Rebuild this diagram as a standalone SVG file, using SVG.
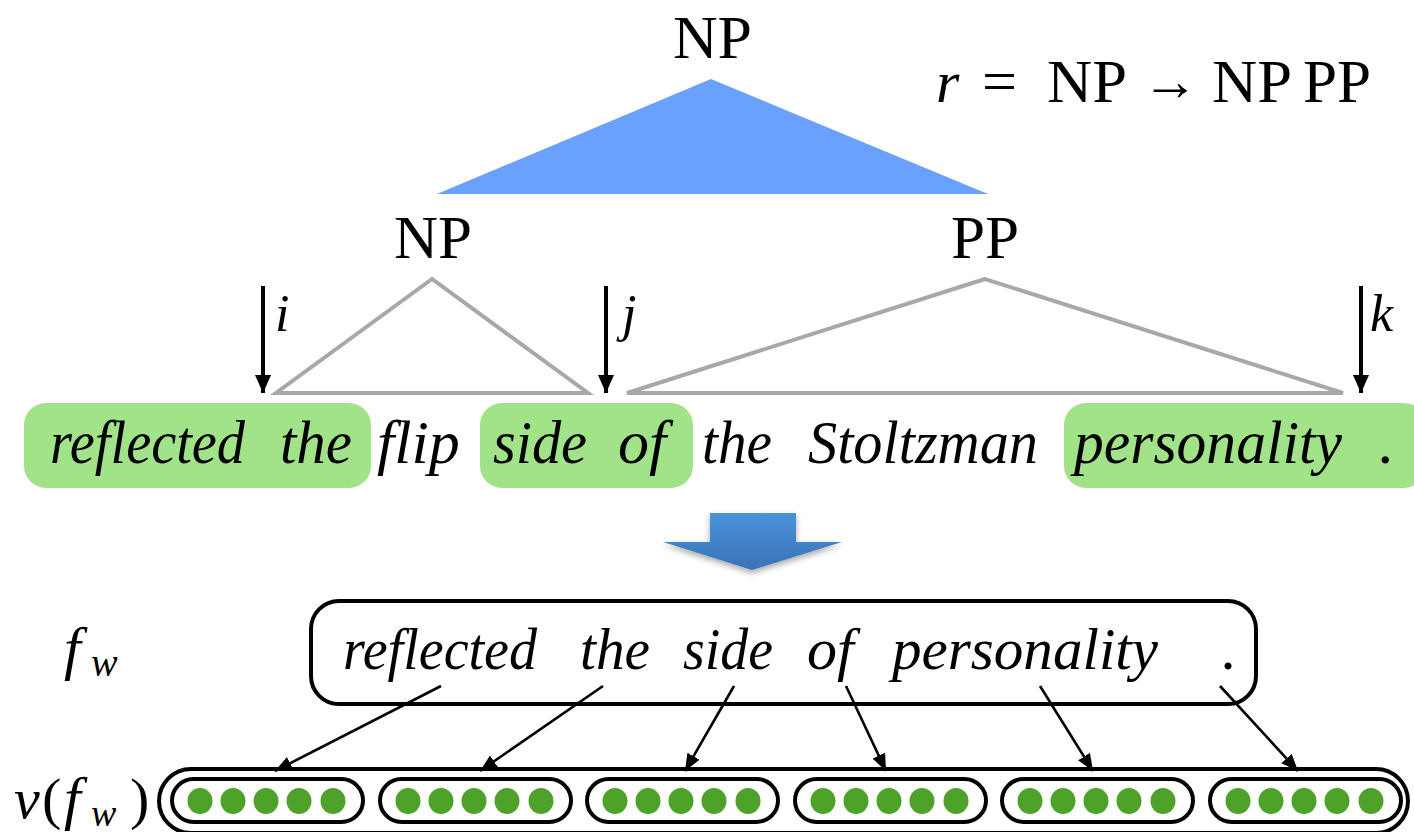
<svg xmlns="http://www.w3.org/2000/svg" width="1414" height="832" viewBox="0 0 1414 832">
  <style>
    .lbl { font-family: 'Liberation Serif', 'DejaVu Serif', 'Noto Serif', serif; fill: #000; }
    .cat { font-size: 62px; }
    .word { font-family: 'Liberation Serif', 'DejaVu Serif', 'Noto Serif', serif; font-style: italic; font-size: 62px; fill: #000; }
    .word2 { font-family: 'Liberation Serif', 'DejaVu Serif', 'Noto Serif', serif; font-style: italic; font-size: 60px; fill: #000; }
    .math { font-family: 'Liberation Serif', 'DejaVu Serif', 'Noto Serif', serif; font-style: italic; fill: #000; }
    .span { fill: none; stroke: #a8a8a8; stroke-width: 4; stroke-linejoin: miter; }
    .hl { fill: #a2e38a; }
    .idx { stroke: #000; stroke-width: 4; }
    .conn { stroke: #000; stroke-width: 2.6; fill: none; }
    .pill { fill: #fff; stroke: #000; stroke-width: 4; }
    .dot { fill: #4ea22a; }
  </style>
  <defs>
    <marker id="headBig" markerUnits="userSpaceOnUse" markerWidth="20" markerHeight="20" viewBox="0 0 20 20" refX="18" refY="10" orient="auto">
      <path d="M0,2 L18,10 L0,18 Z" fill="#000"/>
    </marker>
    <marker id="headSmall" markerUnits="userSpaceOnUse" markerWidth="18" markerHeight="18" viewBox="0 0 18 18" refX="17" refY="9" orient="auto">
      <path d="M0,2 L17,9 L0,16 Z" fill="#000"/>
    </marker>
    <linearGradient id="blueArrow" x1="0" y1="0" x2="0" y2="1">
      <stop offset="0" stop-color="#4b93dc"/>
      <stop offset="1" stop-color="#3a72b4"/>
    </linearGradient>
    <filter id="softShadow" x="-20%" y="-20%" width="140%" height="160%">
      <feGaussianBlur in="SourceAlpha" stdDeviation="3"/>
      <feOffset dy="3" result="b"/>
      <feComponentTransfer><feFuncA type="linear" slope="0.35"/></feComponentTransfer>
      <feMerge><feMergeNode/><feMergeNode in="SourceGraphic"/></feMerge>
    </filter>
  </defs>

  <!-- rule label -->
  <g id="rule">
    <text class="math" x="936" y="102" font-size="60">r</text>
    <text class="lbl" x="982" y="102" font-size="62">=</text>
    <text class="lbl cat" x="1047" y="102" textLength="80" lengthAdjust="spacingAndGlyphs">NP</text>
    <text class="lbl" x="1142" y="100" font-size="56">→</text>
    <text class="lbl cat" x="1212" y="102" textLength="80" lengthAdjust="spacingAndGlyphs">NP</text>
    <text class="lbl cat" x="1303" y="102" textLength="68" lengthAdjust="spacingAndGlyphs">PP</text>
  </g>

  <!-- parent node and its production -->
  <g id="np-root">
    <text class="lbl cat" x="673" y="58" textLength="79" lengthAdjust="spacingAndGlyphs">NP</text>
    <polygon points="711,79 437,194 988,194" fill="#6aa0fe"/>
  </g>

  <g id="np-child">
    <text class="lbl cat" x="394" y="258" textLength="78" lengthAdjust="spacingAndGlyphs">NP</text>
    <polygon class="span" points="432,279 276,393 588,393"/>
  </g>

  <g id="pp-child">
    <text class="lbl cat" x="951" y="258" textLength="68" lengthAdjust="spacingAndGlyphs">PP</text>
    <polygon class="span" points="985,279 627,393 1343,393"/>
  </g>

  <!-- split-point markers -->
  <g id="split-markers">
    <line class="idx" x1="263" y1="286" x2="263" y2="393" marker-end="url(#headBig)"/>
    <text class="math" x="275" y="331" font-size="52">i</text>
    <line class="idx" x1="606" y1="286" x2="606" y2="393" marker-end="url(#headBig)"/>
    <text class="math" x="622" y="331" font-size="52">j</text>
    <line class="idx" x1="1361" y1="286" x2="1361" y2="393" marker-end="url(#headBig)"/>
    <text class="math" x="1370" y="331" font-size="52">k</text>
  </g>

  <!-- sentence with highlighted feature words -->
  <g id="sentence">
    <rect class="hl" x="24" y="403" width="347" height="85" rx="22"/>
    <rect class="hl" x="480" y="403" width="213" height="85" rx="22"/>
    <rect class="hl" x="1064" y="403" width="362" height="85" rx="22"/>
    <text class="word" x="50" y="463" textLength="195" lengthAdjust="spacingAndGlyphs">reflected</text>
    <text class="word" x="280" y="463" textLength="72" lengthAdjust="spacingAndGlyphs">the</text>
    <text class="word" x="377" y="463">flip</text>
    <text class="word" x="493" y="463" textLength="94" lengthAdjust="spacingAndGlyphs">side</text>
    <text class="word" x="618" y="463">of</text>
    <text class="word" x="702" y="463" textLength="70" lengthAdjust="spacingAndGlyphs">the</text>
    <text class="word" x="808" y="463" textLength="230" lengthAdjust="spacingAndGlyphs">Stoltzman</text>
    <text class="word" x="1074" y="463" textLength="268" lengthAdjust="spacingAndGlyphs">personality</text>
    <text class="word" x="1379" y="463">.</text>
  </g>

  <!-- transformation arrow -->
  <g id="transform-arrow" filter="url(#softShadow)">
    <polygon points="710,513 796,513 796,542 842,542 752,570 663,542 710,542" fill="url(#blueArrow)"/>
  </g>

  <!-- extracted feature words -->
  <g id="feature-words">
    <text class="math" x="64" y="668" font-size="60">f</text>
    <text class="math" x="91" y="676" font-size="40">w</text>
    <rect x="311" y="601" width="945" height="103" rx="28" fill="#fff" stroke="#000" stroke-width="4"/>
    <text class="word2" x="343" y="669" textLength="194" lengthAdjust="spacingAndGlyphs">reflected</text>
    <text class="word2" x="580" y="669" textLength="70" lengthAdjust="spacingAndGlyphs">the</text>
    <text class="word2" x="683" y="669" textLength="90" lengthAdjust="spacingAndGlyphs">side</text>
    <text class="word2" x="807" y="669">of</text>
    <text class="word2" x="892" y="669" textLength="266" lengthAdjust="spacingAndGlyphs">personality</text>
    <text class="word2" x="1222" y="669">.</text>
  </g>

  <!-- word vectors -->
  <g id="word-vectors">
    <text class="math" x="14" y="818" font-size="58">v</text>
    <text class="lbl" x="42" y="818" font-size="58">(</text>
    <text class="math" x="64" y="818" font-size="60">f</text>
    <text class="math" x="91" y="826" font-size="38">w</text>
    <text class="lbl" x="130" y="818" font-size="58">)</text>
    <rect x="159" y="769" width="1249" height="64" rx="32" fill="#fff" stroke="#000" stroke-width="4"/>
    <g id="vec-1" transform="translate(172,0)">
      <rect class="pill" x="0" y="779" width="191" height="43" rx="21.5"/>
      <ellipse class="dot" cx="28" cy="801" rx="12.5" ry="13"/>
      <ellipse class="dot" cx="61" cy="801" rx="12.5" ry="13"/>
      <ellipse class="dot" cx="94" cy="801" rx="12.5" ry="13"/>
      <ellipse class="dot" cx="127" cy="801" rx="12.5" ry="13"/>
      <ellipse class="dot" cx="161" cy="801" rx="12.5" ry="13"/>
    </g>
    <g id="vec-2" transform="translate(380,0)">
      <rect class="pill" x="0" y="779" width="191" height="43" rx="21.5"/>
      <ellipse class="dot" cx="28" cy="801" rx="12.5" ry="13"/>
      <ellipse class="dot" cx="61" cy="801" rx="12.5" ry="13"/>
      <ellipse class="dot" cx="94" cy="801" rx="12.5" ry="13"/>
      <ellipse class="dot" cx="127" cy="801" rx="12.5" ry="13"/>
      <ellipse class="dot" cx="161" cy="801" rx="12.5" ry="13"/>
    </g>
    <g id="vec-3" transform="translate(587,0)">
      <rect class="pill" x="0" y="779" width="191" height="43" rx="21.5"/>
      <ellipse class="dot" cx="28" cy="801" rx="12.5" ry="13"/>
      <ellipse class="dot" cx="61" cy="801" rx="12.5" ry="13"/>
      <ellipse class="dot" cx="94" cy="801" rx="12.5" ry="13"/>
      <ellipse class="dot" cx="127" cy="801" rx="12.5" ry="13"/>
      <ellipse class="dot" cx="161" cy="801" rx="12.5" ry="13"/>
    </g>
    <g id="vec-4" transform="translate(795,0)">
      <rect class="pill" x="0" y="779" width="191" height="43" rx="21.5"/>
      <ellipse class="dot" cx="28" cy="801" rx="12.5" ry="13"/>
      <ellipse class="dot" cx="61" cy="801" rx="12.5" ry="13"/>
      <ellipse class="dot" cx="94" cy="801" rx="12.5" ry="13"/>
      <ellipse class="dot" cx="127" cy="801" rx="12.5" ry="13"/>
      <ellipse class="dot" cx="161" cy="801" rx="12.5" ry="13"/>
    </g>
    <g id="vec-5" transform="translate(1002,0)">
      <rect class="pill" x="0" y="779" width="191" height="43" rx="21.5"/>
      <ellipse class="dot" cx="28" cy="801" rx="12.5" ry="13"/>
      <ellipse class="dot" cx="61" cy="801" rx="12.5" ry="13"/>
      <ellipse class="dot" cx="94" cy="801" rx="12.5" ry="13"/>
      <ellipse class="dot" cx="127" cy="801" rx="12.5" ry="13"/>
      <ellipse class="dot" cx="161" cy="801" rx="12.5" ry="13"/>
    </g>
    <g id="vec-6" transform="translate(1210,0)">
      <rect class="pill" x="0" y="779" width="191" height="43" rx="21.5"/>
      <ellipse class="dot" cx="28" cy="801" rx="12.5" ry="13"/>
      <ellipse class="dot" cx="61" cy="801" rx="12.5" ry="13"/>
      <ellipse class="dot" cx="94" cy="801" rx="12.5" ry="13"/>
      <ellipse class="dot" cx="127" cy="801" rx="12.5" ry="13"/>
      <ellipse class="dot" cx="161" cy="801" rx="12.5" ry="13"/>
    </g>
  </g>

  <!-- word to vector lookups -->
  <g id="connectors">
    <line class="conn" x1="441" y1="686" x2="275" y2="771" marker-end="url(#headSmall)"/>
    <line class="conn" x1="603" y1="686" x2="480" y2="771" marker-end="url(#headSmall)"/>
    <line class="conn" x1="734" y1="686" x2="685" y2="771" marker-end="url(#headSmall)"/>
    <line class="conn" x1="846" y1="686" x2="886" y2="771" marker-end="url(#headSmall)"/>
    <line class="conn" x1="1040" y1="686" x2="1093" y2="771" marker-end="url(#headSmall)"/>
    <line class="conn" x1="1220" y1="686" x2="1298" y2="771" marker-end="url(#headSmall)"/>
  </g>
</svg>
